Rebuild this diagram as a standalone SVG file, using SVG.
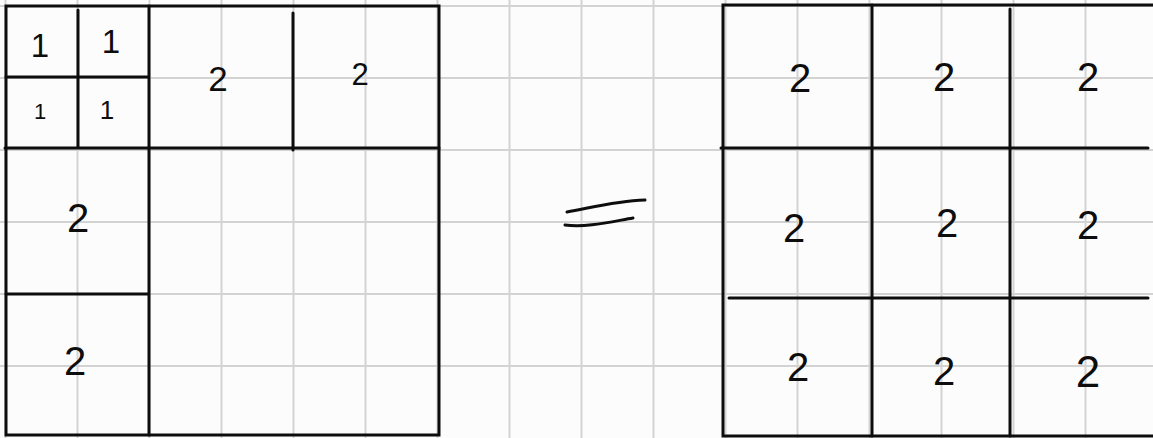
<svg xmlns="http://www.w3.org/2000/svg" width="1153" height="438" viewBox="0 0 1153 438">
<style>
.grid{stroke:#d3d3d3;stroke-width:2;fill:none}
.ink{stroke:#0d0d0d;stroke-width:3;fill:none;stroke-linecap:round}
.t{font-family:"Liberation Sans",Arial,sans-serif;fill:#0d0d0d;text-anchor:middle}
.n2{font-size:40px}
.n1{font-size:33px}
</style>
<rect width="1153" height="438" fill="#fcfcfc"/>
<path class="grid" d="M5.5 0V438M77.5 0V438M149.5 0V438M221.5 0V438M293.5 0V438M365.5 0V438M437.5 0V438M509.5 0V438M581.5 0V438M653.5 0V438M725.5 0V438M797.5 0V438M869.5 0V438M941.5 0V438M1013.5 0V438M1085.5 0V438M0 6H1153M0 78H1153M0 150H1153M0 222H1153M0 294H1153M0 366H1153"/>
<g id="left-square">
<path class="ink" d="M6 6H439V435H6Z"/>
<path class="ink" d="M149 6V435M5 148H439M78 10V148M6 77H148M293 13V150M6 294H148"/>
</g>
<g id="left-labels">
<text class="t n1" x="40" y="57">1</text>
<text class="t n1" x="111" y="53">1</text>
<text class="t" x="40" y="119" font-size="22">1</text>
<text class="t" x="107" y="119" font-size="26">1</text>
<text class="t" x="218" y="91" font-size="35">2</text>
<text class="t" x="360" y="85" font-size="31">2</text>
<text class="t n2" x="78" y="232">2</text>
<text class="t n2" x="75" y="375">2</text>
</g>
<g id="equals">
<path class="ink" d="M567 212C590 208 615 201 645 200"/>
<path class="ink" d="M565 225C585 228 610 222 633 218"/>
</g>
<g id="right-square">
<path class="ink" d="M1153 5H723V436H1153"/>
<path class="ink" d="M872 5V436M1010 9V436M721 148H1148M729 298H1148"/>
</g>
<g id="right-labels">
<text class="t n2" x="800" y="92">2</text>
<text class="t n2" x="944" y="91">2</text>
<text class="t n2" x="1088" y="91">2</text>
<text class="t n2" x="794" y="242">2</text>
<text class="t n2" x="947" y="237">2</text>
<text class="t n2" x="1088" y="239">2</text>
<text class="t n2" x="798" y="381">2</text>
<text class="t n2" x="944" y="385">2</text>
<text class="t" x="1088" y="387" font-size="44">2</text>
</g>
</svg>
